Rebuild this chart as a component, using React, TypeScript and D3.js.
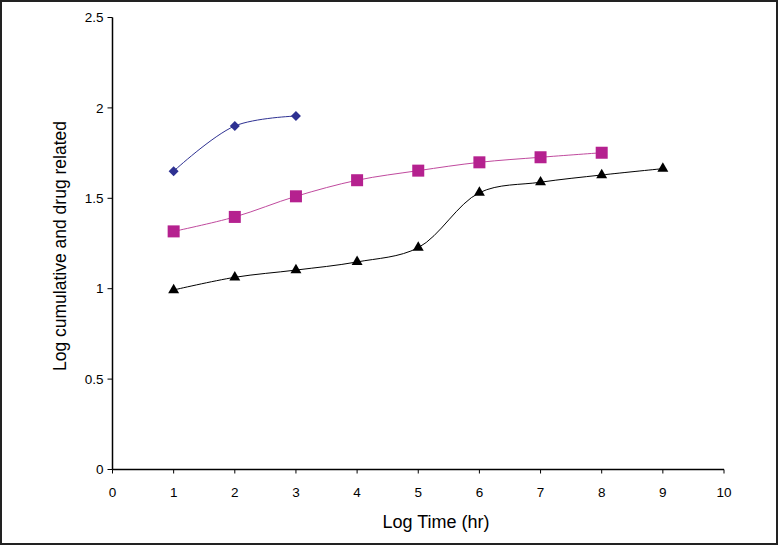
import React from "react";
import * as d3 from "d3";

const xTicks = [0, 1, 2, 3, 4, 5, 6, 7, 8, 9, 10];
const yTicks = [0, 0.5, 1, 1.5, 2, 2.5];

const blueX = [1, 2, 3];
const blueY = [1.65, 1.9, 1.955];

const pinkX = [1, 2, 3, 4, 5, 6, 7, 8];
const pinkY = [1.317, 1.397, 1.511, 1.6, 1.653, 1.699, 1.727, 1.752];

const blackX = [1, 2, 3, 4, 5, 6, 7, 8, 9];
const blackY = [0.993, 1.063, 1.103, 1.148, 1.227, 1.531, 1.589, 1.629, 1.664];

const W = 780;
const H = 546;
const FONT = "Liberation Sans, Arial, sans-serif";

export default function App() {
  const x = d3.scaleLinear().domain([0, 10]).range([112.5, 724]);
  const y = d3.scaleLinear().domain([0, 2.5]).range([469.5, 17.5]);

  const line = (xs: number[], ys: number[]) =>
    d3
      .line<number>()
      .x((_, i) => x(xs[i]))
      .y((_, i) => y(ys[i]))
      .curve(d3.curveCatmullRom.alpha(0.5))(ys) || "";

  const blue = "#2E3192";
  const pink = "#B5218F";
  const pinkLine = "#C04A9E";

  const tri = d3.symbol().type(d3.symbolTriangle).size(52)() || "";
  const dia = "M0,-5L5,0L0,5L-5,0Z";

  return (
    <svg
      width={W}
      height={H}
      style={{ position: "absolute", left: 0, top: 0, background: "#fff" }}
    >
      <rect x={1} y={1} width={776} height={543} fill="#fff" stroke="#222" strokeWidth={2} />

      {/* axes */}
      <line x1={x(0)} x2={x(0)} y1={y(2.5)} y2={y(0)} stroke="#000" strokeWidth={1.5} />
      <line x1={x(0)} x2={x(10)} y1={y(0)} y2={y(0)} stroke="#000" strokeWidth={1.5} />

      {yTicks.map((t) => (
        <g key={"y" + t}>
          <line x1={x(0) - 5} x2={x(0)} y1={y(t)} y2={y(t)} stroke="#000" strokeWidth={1} />
          <text
            x={x(0) - 9}
            y={y(t)}
            dy="0.35em"
            textAnchor="end"
            fontFamily={FONT}
            fontSize={13.5}
            fill="#000"
          >
            {String(t)}
          </text>
        </g>
      ))}

      {xTicks.map((t) => (
        <g key={"x" + t}>
          <line x1={x(t)} x2={x(t)} y1={y(0)} y2={y(0) + 4} stroke="#000" strokeWidth={1} />
          <text
            x={x(t)}
            y={y(0) + 27}
            textAnchor="middle"
            fontFamily={FONT}
            fontSize={13.5}
            fill="#000"
          >
            {String(t)}
          </text>
        </g>
      ))}

      <text
        x={436}
        y={528}
        textAnchor="middle"
        fontFamily={FONT}
        fontSize={18}
        fill="#000"
      >
        Log Time (hr)
      </text>
      <text
        transform={`translate(66,246) rotate(-90)`}
        textAnchor="middle"
        fontFamily={FONT}
        fontSize={17.5}
        fill="#000"
      >
        Log cumulative and drug related
      </text>

      {/* series lines */}
      <path d={line(blueX, blueY)} fill="none" stroke={blue} strokeWidth={1} />
      <path d={line(pinkX, pinkY)} fill="none" stroke={pinkLine} strokeWidth={1} />
      <path d={line(blackX, blackY)} fill="none" stroke="#000" strokeWidth={1} />

      {/* markers */}
      {blueY.map((v, i) => (
        <path key={"b" + i} d={dia} transform={`translate(${x(blueX[i])},${y(v)})`} fill={blue} />
      ))}
      {pinkY.map((v, i) => (
        <rect
          key={"p" + i}
          x={x(pinkX[i]) - 6}
          y={y(v) - 6}
          width={12}
          height={12}
          fill={pink}
        />
      ))}
      {blackY.map((v, i) => (
        <path key={"k" + i} d={tri} transform={`translate(${x(blackX[i])},${y(v)})`} fill="#000" />
      ))}
    </svg>
  );
}
